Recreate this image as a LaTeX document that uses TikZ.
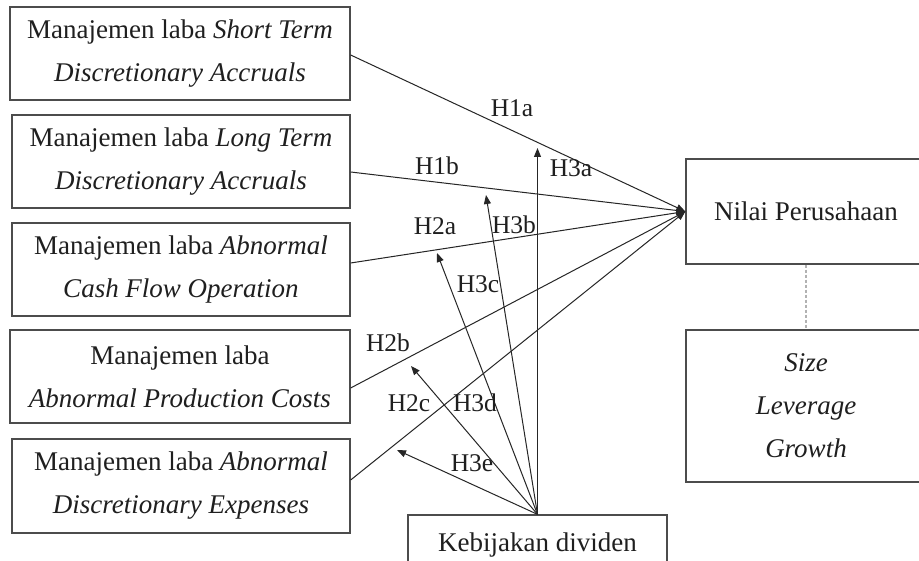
\documentclass[tikz,border=0pt]{standalone}
\usepackage{fontspec}
\setmainfont{Liberation Serif}
\usetikzlibrary{arrows.meta}
\begin{document}
\begin{tikzpicture}[x=1pt,y=-1pt,
 box/.style={draw=black!70,line width=1.3pt,minimum width=340pt,minimum height=93pt,align=center,font=\fontsize{27}{43}\selectfont,text=black!88,inner sep=0pt},
 rbox/.style={draw=black!70,line width=1.3pt,minimum width=240pt,align=center,font=\fontsize{27}{43}\selectfont,text=black!88,inner sep=0pt},
 conn/.style={draw=black!85,line width=1pt,-{Triangle[length=9pt,width=7pt]}},
 lab/.style={font=\fontsize{25.5}{30}\selectfont,text=black!88,inner sep=0pt}]
\clip (0,0) rectangle (919,561);
\fill[white] (0,0) rectangle (919,561);
% left boxes
\node[box] (b1) at (180,53.5) {Manajemen laba \textit{Short Term}\\\textit{Discretionary Accruals}};
\node[box,minimum width=338pt] (b2) at (181,161.5) {Manajemen laba \textit{Long Term}\\\textit{Discretionary Accruals}};
\node[box,minimum width=338pt] (b3) at (181,269.5) {Manajemen laba \textit{Abnormal}\\\textit{Cash Flow Operation}};
\node[box] (b4) at (180,376.5) {Manajemen laba\\\textit{Abnormal Production Costs}};
\node[box,minimum width=338pt,minimum height=94pt] (b5) at (181,486) {Manajemen laba \textit{Abnormal}\\\textit{Discretionary Expenses}};
% right boxes
\node[rbox,minimum height=105pt] (n) at (806,211.5) {Nilai Perusahaan};
\node[rbox,minimum height=152pt] (sz) at (806,406) {\textit{Size}\\\textit{Leverage}\\\textit{Growth}};
% moderator
\node[draw=black!70,line width=1.3pt,minimum width=259pt,minimum height=60pt,font=\fontsize{27}{43}\selectfont,text=black!88,inner sep=0pt] (kb) at (537.5,545) {Kebijakan dividen};
% dashed link
\draw[densely dashed,black!30,line width=1.4pt] (n.south) -- (sz.north);
% main arrows
\draw[conn] ([yshift=-1.5pt]b1.east) -- (n.west);
\draw[conn] ([yshift=-10.5pt]b2.east) -- (n.west);
\draw[conn] ([yshift=6.5pt]b3.east) -- (n.west);
\draw[conn] ([yshift=-11.5pt]b4.east) -- (n.west);
\draw[conn] ([yshift=6pt]b5.east) -- (n.west);
% moderating arrows
\coordinate (t3a) at (537.5,148);
\coordinate (t3b) at (486,195);
\coordinate (t3c) at (437,253);
\coordinate (t3d) at (411,366);
\coordinate (t3e) at (397,450);
\draw[conn] (kb.north) -- (t3a);
\draw[conn] (kb.north) -- (t3b);
\draw[conn] (kb.north) -- (t3c);
\draw[conn] (kb.north) -- (t3d);
\draw[conn] (kb.north) -- (t3e);
% labels
\node[lab] (l1a) at (512,108) {H1a};
\node[lab] (l3a) at (571,168) {H3a};
\node[lab] (l1b) at (437,166) {H1b};
\node[lab] (l2a) at (435,226) {H2a};
\node[lab] (l3b) at (514,225) {H3b};
\node[lab] (l3c) at (478,284) {H3c};
\node[lab] (l2b) at (388,343) {H2b};
\node[lab] (l2c) at (409,403) {H2c};
\node[lab] (l3d) at (475,403) {H3d};
\node[lab] (l3e) at (472,463) {H3e};
\end{tikzpicture}
\end{document}
